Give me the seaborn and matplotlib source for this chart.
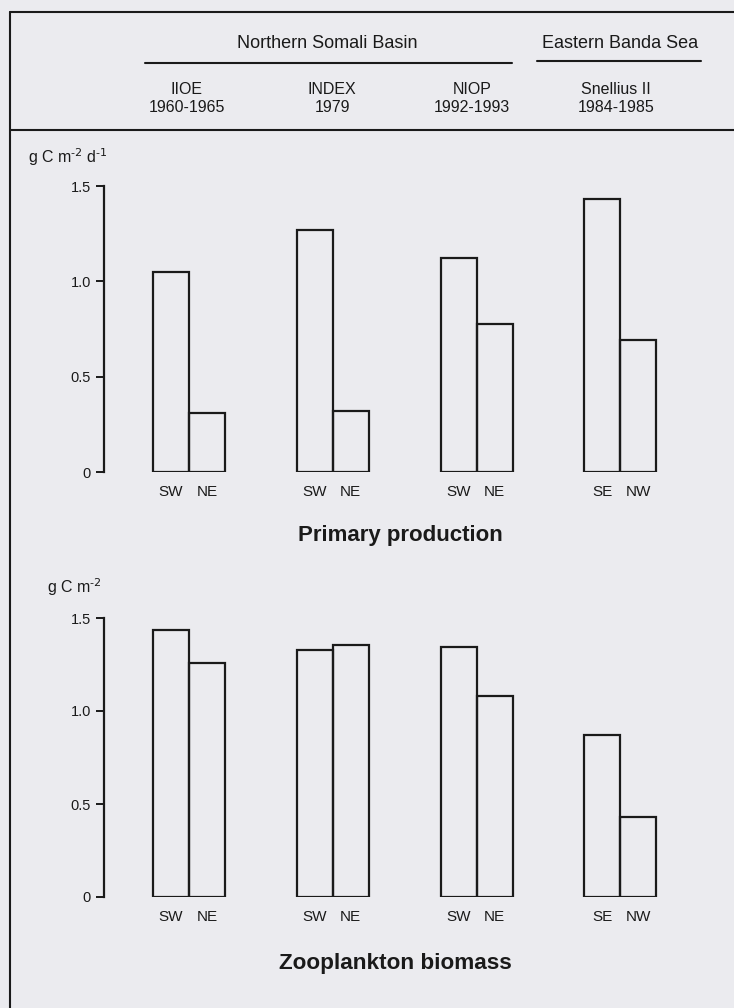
import matplotlib
matplotlib.use("Agg")
import matplotlib.pyplot as plt
import seaborn as sns
import pandas as pd

# ---- data ----
expeditions = ["IIOE", "INDEX", "NIOP", "Snellius II"]
years = ["1960-1965", "1979", "1992-1993", "1984-1985"]
seasons = [["SW", "NE"], ["SW", "NE"], ["SW", "NE"], ["SE", "NW"]]
primary_first = [1.05, 1.27, 1.12, 1.43]
primary_second = [0.31, 0.32, 0.775, 0.69]
zoo_first = [1.435, 1.33, 1.345, 0.87]
zoo_second = [1.26, 1.355, 1.08, 0.43]
yticks = [0, 0.5, 1.0, 1.5]
ytick_labels = ["0", "0.5", "1.0", "1.5"]

sns.set_theme(style="white")
BG = "#ebebef"
plt.rcParams["font.family"] = ["Liberation Sans", "DejaVu Sans"]
plt.rcParams["mathtext.default"] = "regular"

W, H = 734, 1008
fig = plt.figure(figsize=(W / 100, H / 100), dpi=100, facecolor=BG)


def fx(px):
    return px / W


def fy(py):
    return 1 - py / H


def make_df(first, second):
    rows = []
    for i, e in enumerate(expeditions):
        rows.append({"exp": e, "pos": "a", "val": first[i]})
        rows.append({"exp": e, "pos": "b", "val": second[i]})
    return pd.DataFrame(rows)


def panel(top_px, bot_px, first, second):
    ax = fig.add_axes([fx(104), fy(bot_px), 1 - fx(104), (bot_px - top_px) / H])
    ax.set_facecolor("none")
    df = make_df(first, second)
    sns.barplot(data=df, x="exp", y="val", hue="pos", order=expeditions,
                hue_order=["a", "b"], palette=["#1a1a1a", "#1a1a1a"],
                fill=False, linewidth=1.6, width=0.5, errorbar=None,
                legend=False, ax=ax, gap=0)
    ax.set_xlim(-0.5915, 3.79)
    ax.set_ylim(0, 1.5)
    ax.set_xlabel("")
    ax.set_ylabel("")
    ax.set_xticks([])
    ax.set_yticks(yticks)
    ax.set_yticklabels(ytick_labels)
    for s in ["top", "right", "bottom"]:
        ax.spines[s].set_visible(False)
    ax.spines["left"].set_linewidth(1.6)
    ax.spines["left"].set_color("#1a1a1a")
    ax.tick_params(axis="y", direction="out", length=6, width=1.4,
                   labelsize=10.5, pad=3.5, colors="#1a1a1a", left=True)
    # season labels under bars
    patches = sorted([p for p in ax.patches if p.get_height() > 0],
                     key=lambda p: p.get_x())
    for k, p in enumerate(patches):
        g, h = divmod(k, 2)
        ax.annotate(seasons[g][h], xy=(p.get_x() + p.get_width() / 2, 0),
                    xytext=(0, -14.5), textcoords="offset points",
                    ha="center", va="center", fontsize=11, color="#1a1a1a")
    return ax


panel(186, 472, primary_first, primary_second)
panel(618, 897, zoo_first, zoo_second)

# frame lines
lc = "#1a1a1a"
fig.add_artist(plt.Line2D([fx(10), 1], [fy(12), fy(12)], color=lc, lw=1.5))
fig.add_artist(plt.Line2D([fx(10), 1], [fy(130), fy(130)], color=lc, lw=1.5))
fig.add_artist(plt.Line2D([fx(10), fx(10)], [fy(12), 0], color=lc, lw=1.5))
fig.add_artist(plt.Line2D([fx(145), fx(512)], [fy(63), fy(63)], color=lc, lw=1.5))
fig.add_artist(plt.Line2D([fx(537), fx(701)], [fy(61), fy(61)], color=lc, lw=1.5))

fig.text(fx(327), fy(43), "Northern Somali Basin", ha="center", va="center",
         fontsize=13, color=lc)
fig.text(fx(620), fy(43), "Eastern Banda Sea", ha="center", va="center",
         fontsize=13, color=lc)
for e, yr, cx in zip(expeditions, years, [187, 332, 472, 616]):
    fig.text(fx(cx), fy(89), e, ha="center", va="center", fontsize=11.5, color=lc)
    fig.text(fx(cx), fy(108), yr, ha="center", va="center", fontsize=11.5, color=lc)

fig.text(fx(28), fy(157), r"g C m$^{\text{-2}}$ d$^{\text{-1}}$", ha="left",
         va="center", fontsize=11.5, color=lc)
fig.text(fx(47), fy(587), r"g C m$^{\text{-2}}$", ha="left", va="center",
         fontsize=11.5, color=lc)
fig.text(fx(400), fy(535), "Primary production", ha="center", va="center",
         fontsize=16, fontweight="bold", color=lc)
fig.text(fx(395), fy(963), "Zooplankton biomass", ha="center", va="center",
         fontsize=16.2, fontweight="bold", color=lc)

fig.savefig("out.png", dpi=100, facecolor=BG)
